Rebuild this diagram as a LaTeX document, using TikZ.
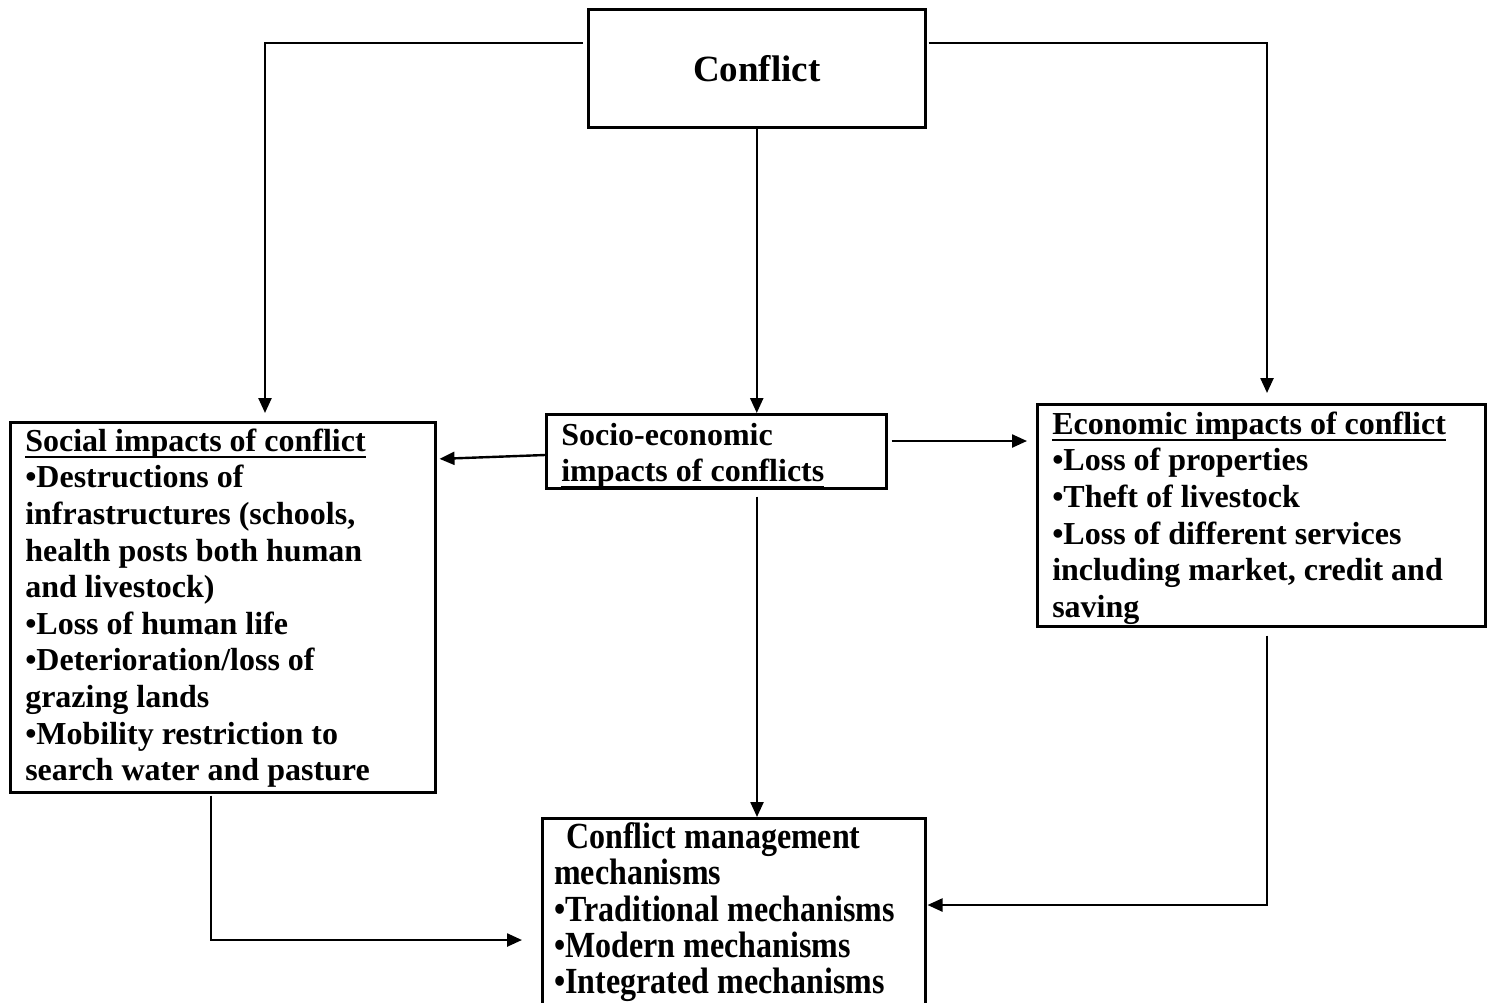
\documentclass[tikz,border=0pt]{standalone}
\usepackage{fontspec}
\setmainfont{Liberation Serif}
\newfontfamily\tallfont[FakeStretch=0.87]{Liberation Serif}
\usetikzlibrary{arrows.meta}
% underline set close to the baseline
\newcommand\undl[1]{\leavevmode\setbox0\hbox{#1}\rlap{\rule[-3.4pt]{\wd0}{1.1pt}}\box0}
% text of a box: width, height, first baseline, lines
\newcommand\boxtext[4]{\parbox[c][#2][t]{#1}{\raggedright\rule{0pt}{#3}#4}}
\begin{document}
\begin{tikzpicture}[x=.5pt,y=-.5pt,>={Triangle[length=7.5pt,width=6.5pt]},
    box/.style={draw,line width=1.25pt,anchor=north west,inner xsep=7.5pt,inner ysep=0pt,
        font=\fontsize{16}{18.3}\selectfont\bfseries},
    arr/.style={->,line width=1.2pt}]
    \useasboundingbox (0,0) rectangle (1493,1002);
    % boxes
    \node[box,align=center,text width=153.5pt,minimum height=59pt,
        font=\fontsize{18.5}{21}\selectfont\bfseries] (conflict) at (587,8) {Conflict};
    \node[box] (social) at (9,421) {\boxtext{197.5pt}{185pt}{14.5pt}%
        {\undl{Social impacts of conflict}\\ •Destructions of\\ infrastructures (schools,\\
        health posts both human\\ and livestock)\\ •Loss of human life\\ •Deterioration/loss of\\
        grazing lands\\ •Mobility restriction to\\ search water and pasture}};
    \node[box,font=\fontsize{16}{18}\selectfont\bfseries] (socio) at (545,413)
        {\boxtext{155pt}{37pt}{15.5pt}{Socio-economic\\ \undl{impacts of conflicts}}};
    \node[box] (econ) at (1036,403) {\boxtext{209pt}{111pt}{15pt}%
        {\undl{Economic impacts of conflict}\\ •Loss of properties\\ •Theft of livestock\\
        •Loss of different services\\ including market, credit and\\ saving}};
    \node[box,inner xsep=6pt,font=\tallfont\fontsize{18.4}{18.2}\selectfont\bfseries] (manage) at (541,817)
        {\boxtext{179.5pt}{94pt}{15pt}{\hspace*{6pt}Conflict management\\ mechanisms\\
        •Traditional mechanisms\\ •Modern mechanisms\\ •Integrated mechanisms}};
    % corners of the connectors
    \coordinate (tl) at (265,43);
    \coordinate (tr) at (1267,43);
    \coordinate (bl) at (211,940);
    \coordinate (br) at (1267,905);
    \draw[arr,shorten <=2pt,shorten >=4pt] (conflict.west |- tl) -- (tl) -- (social.north -| tl);
    \draw[arr,shorten <=1pt,shorten >=5pt] (conflict.east |- tr) -- (tr) -- (econ.north -| tr);
    \draw[arr] (conflict.south) -- (conflict.south |- socio.north);
    \draw[arr,shorten >=1.5pt] (socio.west |- 0,455) -- (social.east |- 0,459);
    \draw[arr,shorten <=2pt,shorten >=4.5pt] (socio.east |- 0,441) -- (econ.west |- 0,441);
    \draw[arr,shorten <=3.5pt] (socio.south -| 757,0) -- (manage.north -| 757,0);
    \draw[arr,shorten <=1pt,shorten >=9.5pt] (social.south -| bl) -- (bl) -- (manage.west |- bl);
    \draw[arr,shorten <=4pt,shorten >=.5pt] (econ.south -| br) -- (br) -- (manage.east |- br);
\end{tikzpicture}
\end{document}
